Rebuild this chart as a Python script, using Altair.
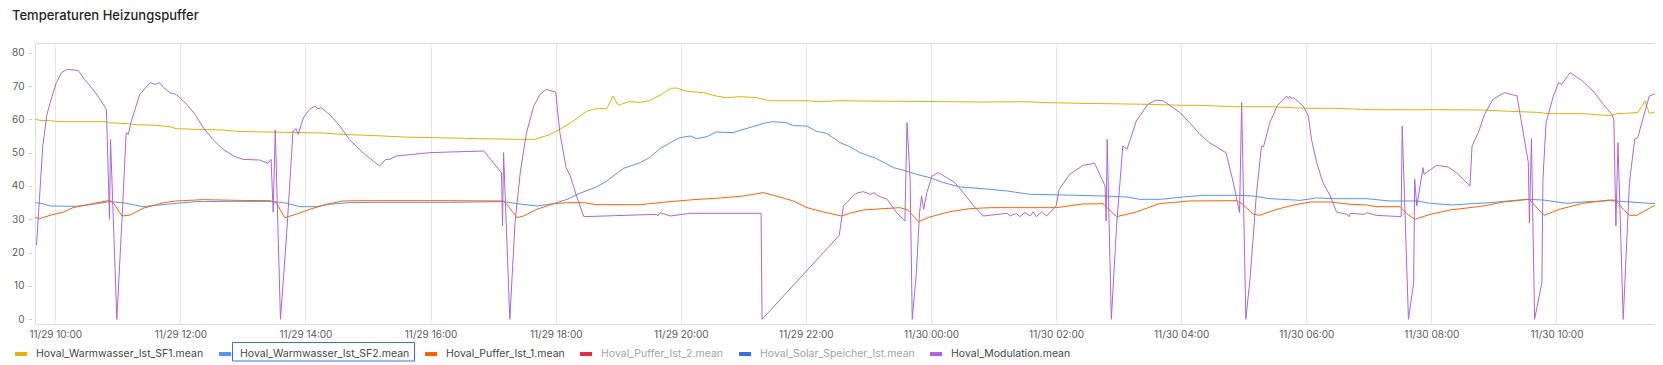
import altair as alt
import pandas as pd

TITLE = "Temperaturen Heizungspuffer"

SERIES = [
    "Hoval_Warmwasser_Ist_SF1.mean",
    "Hoval_Warmwasser_Ist_SF2.mean",
    "Hoval_Puffer_Ist_1.mean",
    "Hoval_Puffer_Ist_2.mean",
    "Hoval_Solar_Speicher_Ist.mean",
    "Hoval_Modulation.mean",
]
HIDDEN = ["Hoval_Puffer_Ist_2.mean", "Hoval_Solar_Speicher_Ist.mean"]
COLORS = ["#E0B400", "#5794F2", "#FA6400", "#E02F44", "#3274D9", "#AE66D8"]

X_TICKS = ["29 10:00", "29 12:00", "29 14:00", "29 16:00", "29 18:00", "29 20:00",
           "29 22:00", "30 00:00", "30 02:00", "30 04:00", "30 06:00", "30 08:00", "30 10:00"]
X_RANGE = ["29 09:40:32", "30 11:34:30"]
Y_TICKS = [0, 10, 20, 30, 40, 50, 60, 70, 80]
Y_RANGE = [-1.41, 82.91]

SF1_T = ["29 09:41", "29 09:45", "29 09:55", "29 10:04", "29 10:49", "29 10:52", "29 11:08", "29 11:18",
         "29 11:37", "29 11:50", "29 11:56", "29 12:15", "29 12:41", "29 12:54", "29 13:07", "29 13:39",
         "29 14:17", "29 14:30", "29 14:42", "29 15:08", "29 15:34", "29 16:02", "29 16:18", "29 16:47",
         "29 17:26", "29 17:40", "29 17:55", "29 18:04", "29 18:17", "29 18:30", "29 18:39", "29 18:49",
         "29 18:55", "29 19:00", "29 19:10", "29 19:21", "29 19:30", "29 19:40", "29 19:50", "29 19:56",
         "29 20:06", "29 20:22", "29 20:34", "29 20:44", "29 20:57", "29 21:13", "29 21:25", "29 22:01",
         "29 22:13", "29 22:32", "29 22:52", "30 00:18", "30 00:50", "30 01:28", "30 01:54", "30 02:26",
         "30 03:30", "30 04:02", "30 04:18", "30 04:50", "30 05:25", "30 06:00", "30 06:26", "30 07:04",
         "30 08:08", "30 08:50", "30 09:09", "30 09:41", "30 09:54", "30 10:25", "30 10:51", "30 10:58",
         "30 11:18", "30 11:25", "30 11:29", "30 11:39", "30 11:42"]
SF1_V = [60.0, 59.7, 59.6, 59.3, 59.3, 59.0, 58.7, 58.4,
         58.2, 57.8, 57.2, 57.0, 56.8, 56.4, 56.3, 56.1,
         55.9, 55.6, 55.4, 55.1, 54.7, 54.5, 54.4, 54.2,
         54.0, 54.0, 55.5, 57.0, 59.5, 62.5, 63.2, 63.2,
         67.0, 64.2, 65.3, 65.1, 65.6, 67.2, 69.3, 69.4,
         68.4, 68.0, 67.0, 66.5, 66.8, 66.5, 65.6, 65.6,
         65.3, 65.6, 65.5, 65.3, 65.2, 65.3, 65.0, 64.8,
         64.5, 64.2, 64.2, 63.8, 63.8, 63.3, 63.3, 62.9,
         62.9, 62.8, 62.5, 62.1, 61.7, 61.7, 61.1, 61.7,
         62.0, 65.5, 61.8, 62.6, 65.0]

SF2_T = ["29 09:41", "29 09:48", "29 09:55", "29 10:20", "29 10:40", "29 10:52", "29 11:05", "29 11:24",
         "29 11:37", "29 11:56", "29 12:15", "29 12:47", "29 13:26", "29 13:39", "29 13:55", "29 14:10",
         "29 14:23", "29 14:42", "29 15:08", "29 16:18", "29 17:10", "29 17:23", "29 17:42", "29 17:58",
         "29 18:11", "29 18:23", "29 18:39", "29 18:49", "29 19:05", "29 19:21", "29 19:30", "29 19:40",
         "29 19:50", "29 19:59", "29 20:09", "29 20:15", "29 20:25", "29 20:34", "29 20:50", "29 20:57",
         "29 21:09", "29 21:22", "29 21:29", "29 21:41", "29 21:48", "29 22:01", "29 22:10", "29 22:20",
         "29 22:33", "29 22:42", "29 22:52", "29 23:08", "29 23:24", "29 23:33", "29 23:46", "29 23:59",
         "30 00:12", "30 00:28", "30 00:50", "30 01:13", "30 01:35", "30 01:54", "30 02:45", "30 03:08",
         "30 03:20", "30 03:40", "30 04:02", "30 04:21", "30 04:53", "30 05:09", "30 05:25", "30 05:54",
         "30 06:10", "30 06:29", "30 06:58", "30 07:20", "30 07:46", "30 07:59", "30 08:21", "30 08:34",
         "30 08:56", "30 09:31", "30 09:47", "30 10:10", "30 10:25", "30 10:51", "30 10:57", "30 11:29",
         "30 11:42"]
SF2_V = [35.0, 34.7, 34.0, 33.9, 34.7, 35.3, 35.0, 33.8,
         34.2, 34.8, 35.3, 35.4, 35.4, 35.0, 33.8, 33.8,
         34.5, 35.0, 35.1, 35.1, 35.3, 34.7, 34.0, 34.7,
         36.0, 37.8, 39.7, 41.5, 45.3, 47.0, 48.5, 51.2,
         53.0, 54.5, 55.0, 54.2, 54.8, 56.2, 56.0, 56.7,
         57.8, 59.0, 59.3, 59.0, 58.1, 58.0, 56.4, 55.8,
         53.0, 51.8, 50.0, 48.2, 45.5, 44.8, 43.5, 42.5,
         41.0, 39.7, 39.2, 38.5, 37.5, 37.4, 37.0, 36.7,
         36.0, 36.0, 36.7, 37.2, 37.2, 37.0, 36.2, 35.7,
         36.4, 36.2, 36.2, 35.5, 35.5, 34.8, 34.3, 34.6,
         35.0, 36.0, 35.8, 34.8, 35.2, 35.6, 35.5, 34.8,
         34.7]

P1_T = ["29 09:41", "29 09:45", "29 09:55", "29 10:08", "29 10:17", "29 10:33", "29 10:49", "29 10:52",
        "29 10:56", "29 11:04", "29 11:12", "29 11:24", "29 11:44", "29 11:56", "29 12:22", "29 12:54",
        "29 13:26", "29 13:32", "29 13:40", "29 13:51", "29 14:04", "29 14:20", "29 14:36", "29 14:55",
        "29 16:18", "29 17:10", "29 17:13", "29 17:23", "29 17:29", "29 17:42", "29 17:58", "29 18:11",
        "29 18:27", "29 18:39", "29 19:21", "29 19:46", "29 20:12", "29 20:38", "29 21:00", "29 21:19",
        "29 21:29", "29 21:48", "29 22:01", "29 22:17", "29 22:34", "29 22:42", "29 22:55", "29 23:14",
        "29 23:30", "29 23:38", "29 23:48", "29 23:59", "30 00:18", "30 00:37", "30 00:57", "30 02:00",
        "30 02:26", "30 02:45", "30 02:58", "30 03:17", "30 03:39", "30 04:08", "30 04:53", "30 04:59",
        "30 05:09", "30 05:15", "30 05:32", "30 05:48", "30 06:04", "30 06:23", "30 06:42", "30 06:58",
        "30 07:07", "30 07:30", "30 07:36", "30 07:44", "30 07:59", "30 08:18", "30 08:50", "30 09:09",
        "30 09:34", "30 09:44", "30 09:48", "30 10:03", "30 10:25", "30 10:51", "30 10:57", "30 11:04",
        "30 11:10", "30 11:17", "30 11:33", "30 11:42"]
P1_V = [30.5, 30.2, 31.2, 32.2, 33.5, 34.5, 35.5, 35.8,
        34.8, 31.0, 31.3, 33.3, 35.0, 35.5, 35.9, 35.7,
        35.6, 35.0, 30.5, 31.5, 33.0, 34.5, 35.5, 35.6,
        35.6, 35.5, 34.5, 30.5, 31.0, 33.0, 34.7, 35.0,
        35.0, 34.4, 34.4, 35.2, 35.9, 36.4, 37.0, 38.0,
        37.2, 35.5, 33.5, 32.2, 31.0, 31.8, 32.8, 33.2,
        33.5, 32.8, 29.3, 30.7, 32.3, 33.2, 33.5, 33.5,
        34.6, 34.7, 30.8, 32.2, 34.7, 35.5, 35.6, 34.5,
        31.6, 31.2, 33.0, 34.3, 35.2, 35.2, 34.5, 34.3,
        33.8, 33.8, 31.8, 30.0, 31.5, 32.8, 34.0, 35.2,
        36.0, 32.5, 31.2, 33.0, 34.8, 35.8, 35.7, 33.0,
        31.2, 31.2, 34.0, 34.3]

MOD_T = ["29 09:42", "29 09:48", "29 09:52", "29 09:56", "29 10:01", "29 10:06", "29 10:11", "29 10:22",
         "29 10:28", "29 10:36", "29 10:43", "29 10:49", "29 10:52", "29 10:53", "29 10:59", "29 11:04",
         "29 11:08", "29 11:10", "29 11:13", "29 11:21", "29 11:31", "29 11:36", "29 11:40", "29 11:44",
         "29 11:50", "29 11:56", "29 12:06", "29 12:14", "29 12:22", "29 12:31", "29 12:41", "29 12:51",
         "29 13:00", "29 13:16", "29 13:24", "29 13:27", "29 13:29", "29 13:31", "29 13:36", "29 13:42",
         "29 13:45", "29 13:48", "29 13:51", "29 13:53", "29 13:58", "29 14:04", "29 14:09", "29 14:12",
         "29 14:15", "29 14:23", "29 14:33", "29 14:42", "29 14:55", "29 15:05", "29 15:11", "29 15:17",
         "29 15:21", "29 15:27", "29 15:43", "29 15:59", "29 16:18", "29 16:51", "29 17:08", "29 17:09",
         "29 17:10", "29 17:16", "29 17:21", "29 17:26", "29 17:32", "29 17:39", "29 17:45", "29 17:51",
         "29 18:00", "29 18:04", "29 18:10", "29 18:14", "29 18:20", "29 18:27", "29 19:37", "29 19:38",
         "29 19:40", "29 19:50", "29 20:09", "29 21:17", "29 21:18", "29 22:32", "29 22:36", "29 22:39",
         "29 22:42", "29 22:47", "29 22:50", "29 22:55", "29 23:02", "29 23:06", "29 23:08", "29 23:18",
         "29 23:27", "29 23:35", "29 23:37", "29 23:40", "29 23:42", "29 23:46", "29 23:49", "29 23:51",
         "29 23:53", "29 23:56", "30 00:01", "30 00:07", "30 00:15", "30 00:23", "30 00:31", "30 00:41",
         "30 00:50", "30 01:13", "30 01:16", "30 01:22", "30 01:25", "30 01:30", "30 01:35", "30 01:38",
         "30 01:41", "30 01:46", "30 01:51", "30 02:00", "30 02:03", "30 02:13", "30 02:26", "30 02:37",
         "30 02:47", "30 02:48", "30 02:49", "30 02:53", "30 02:58", "30 03:04", "30 03:08", "30 03:17",
         "30 03:28", "30 03:36", "30 03:43", "30 03:59", "30 04:08", "30 04:18", "30 04:27", "30 04:43",
         "30 04:50", "30 04:56", "30 04:58", "30 05:02", "30 05:06", "30 05:12", "30 05:17", "30 05:19",
         "30 05:25", "30 05:32", "30 05:38", "30 05:41", "30 05:43", "30 05:44", "30 05:46", "30 05:48",
         "30 05:57", "30 06:02", "30 06:05", "30 06:10", "30 06:16", "30 06:23", "30 06:29", "30 06:39",
         "30 06:41", "30 06:42", "30 06:56", "30 06:58", "30 07:07", "30 07:31", "30 07:32", "30 07:38",
         "30 07:43", "30 07:44", "30 07:46", "30 07:52", "30 07:53", "30 07:55", "30 08:05", "30 08:16",
         "30 08:24", "30 08:37", "30 08:39", "30 08:45", "30 08:51", "30 08:59", "30 09:10", "30 09:20",
         "30 09:22", "30 09:33", "30 09:34", "30 09:36", "30 09:39", "30 09:46", "30 09:47", "30 09:50",
         "30 09:57", "30 10:02", "30 10:05", "30 10:13", "30 10:25", "30 10:35", "30 10:45", "30 10:53",
         "30 10:55", "30 10:57", "30 10:59", "30 11:04", "30 11:10", "30 11:15", "30 11:18", "30 11:21",
         "30 11:29", "30 11:37", "30 11:42"]
MOD_V = [22.3, 52.0, 61.5, 66.0, 71.0, 74.0, 75.0, 74.7,
         72.0, 69.0, 66.0, 63.0, 30.0, 54.0, 0.0, 30.0,
         56.0, 55.5, 59.5, 67.5, 71.0, 70.5, 71.0, 69.5,
         68.0, 67.5, 64.5, 61.5, 57.5, 54.0, 51.0, 49.0,
         48.0, 47.8, 46.8, 48.0, 32.2, 56.8, 0.0, 26.0,
         41.0, 56.5, 57.2, 55.5, 60.5, 63.0, 64.0, 63.2,
         63.5, 61.5, 58.0, 54.0, 50.0, 47.5, 46.0, 48.0,
         48.0, 49.0, 49.5, 50.0, 50.2, 50.5, 44.0, 28.0,
         50.0, 0.0, 29.0, 44.0, 56.0, 64.0, 67.5, 69.0,
         68.2, 56.0, 45.5, 43.0, 37.0, 30.8, 31.5, 31.0,
         32.0, 31.0, 31.8, 31.8, 0.0, 25.2, 34.0, 35.0,
         36.0, 37.5, 38.0, 38.3, 37.5, 38.0, 37.2, 36.0,
         32.0, 29.5, 59.0, 42.0, 0.0, 14.0, 32.0, 37.0,
         33.0, 38.0, 43.0, 44.0, 42.5, 41.0, 38.0, 34.0,
         31.0, 31.8, 31.0, 31.8, 30.8, 32.0, 31.0, 32.2,
         30.8, 32.2, 31.0, 34.0, 39.0, 43.5, 46.2, 46.8,
         40.0, 29.5, 54.0, 0.0, 28.0, 52.0, 51.0, 59.5,
         64.5, 65.8, 65.5, 62.0, 59.0, 55.5, 53.0, 50.0,
         41.0, 32.0, 65.0, 0.0, 12.0, 37.0, 52.0, 51.8,
         59.0, 64.0, 66.0, 67.0, 66.2, 67.0, 66.2, 66.5,
         64.0, 61.0, 54.0, 47.0, 41.0, 37.0, 32.2, 31.5,
         30.8, 31.8, 31.5, 32.0, 31.2, 30.8, 58.0, 0.0,
         11.0, 42.0, 34.0, 45.5, 43.5, 44.0, 46.2, 45.7,
         44.0, 40.0, 52.0, 56.0, 61.5, 66.0, 68.0, 67.2,
         67.2, 47.0, 29.0, 54.2, 0.0, 11.0, 42.0, 59.0,
         67.0, 71.0, 70.5, 74.0, 71.5, 68.5, 64.5, 61.5,
         60.0, 28.0, 53.0, 0.0, 41.0, 54.0, 54.5, 58.0,
         67.0, 68.0, 65.5]


def iso(s):
    day, hm = s.split()
    if hm.count(":") == 1:
        hm += ":00"
    return f"2023-11-{day}T{hm}Z"


def dt(s):
    day, hm = s.split()
    parts = [int(p) for p in hm.split(":")] + [0]
    return alt.DateTime(year=2023, month=11, date=int(day), hours=parts[0],
                        minutes=parts[1], seconds=parts[2], utc=True)


rows = []
for name, ts, vs in [(SERIES[0], SF1_T, SF1_V), (SERIES[1], SF2_T, SF2_V),
                     (SERIES[2], P1_T, P1_V), (SERIES[5], MOD_T, MOD_V)]:
    for t, v in zip(ts, vs):
        rows.append({"time": iso(t), "value": v, "series": name})
df = pd.DataFrame(rows)

FONT = "Inter"
hidden_expr = "indexof(" + str(HIDDEN) + ", datum.label) >= 0 ? '#a3a3a3' : '#464646'"

lines = alt.Chart(df).mark_line(strokeWidth=1, interpolate="linear", clip=True).encode(
    x=alt.X("time:T",
            scale=alt.Scale(type="utc", domain=[dt(X_RANGE[0]), dt(X_RANGE[1])]),
            axis=alt.Axis(values=[dt(t) for t in X_TICKS],
                          labelExpr="utcFormat(datum.value, '%m/%d %H:%M')",
                          grid=True, gridColor="#e6e6e6", gridWidth=1,
                          domain=False, ticks=False, tickSize=0, labelPadding=5,
                          labelFont=FONT, labelFontSize=10, labelColor="#5b5b5b",
                          labelFlush=False, labelOverlap=False, title=None)),
    y=alt.Y("value:Q",
            scale=alt.Scale(domain=Y_RANGE, nice=False, zero=False),
            axis=alt.Axis(values=Y_TICKS, grid=False, domain=False, ticks=True, tickSize=4,
                          tickColor="#cfcfcf", offset=3, labelPadding=4,
                          labelFont=FONT, labelFontSize=10, labelColor="#5b5b5b", title=None)),
    color=alt.Color("series:N",
                    scale=alt.Scale(domain=SERIES, range=COLORS),
                    legend=alt.Legend(orient="none", direction="horizontal", legendX=-22, legendY=303,
                                      title=None, symbolType="stroke", symbolSize=144,
                                      symbolStrokeWidth=4, labelOffset=7, columnPadding=7,
                                      labelFont=FONT, labelFontSize=10.5,
                                      labelColor={"expr": hidden_expr}, padding=0,
                                      labelLimit=400)),
    order=alt.Order("time:T"),
)

box = alt.Chart(pd.DataFrame({"series": [SERIES[1]]})).mark_rect(
    fillOpacity=0, stroke="#3871DC", strokeWidth=1
).encode(x=alt.value(197.5), x2=alt.value(379.5), y=alt.value(299.5), y2=alt.value(318))

chart = alt.layer(lines, box).properties(
    width=1620, height=281,
    title=alt.TitleParams(TITLE, anchor="start", frame="group", dx=-23, offset=10,
                          baseline="alphabetic", font=FONT, fontSize=13, fontWeight=500,
                          color="#1f1f22"),
    padding={"left": 27, "top": 35, "right": 0, "bottom": 41},
    autosize=alt.AutoSizeParams(type="none"),
).configure_view(stroke=None).configure(background="white")

chart.save("out.html", embed_options={"renderer": "svg", "actions": False})
